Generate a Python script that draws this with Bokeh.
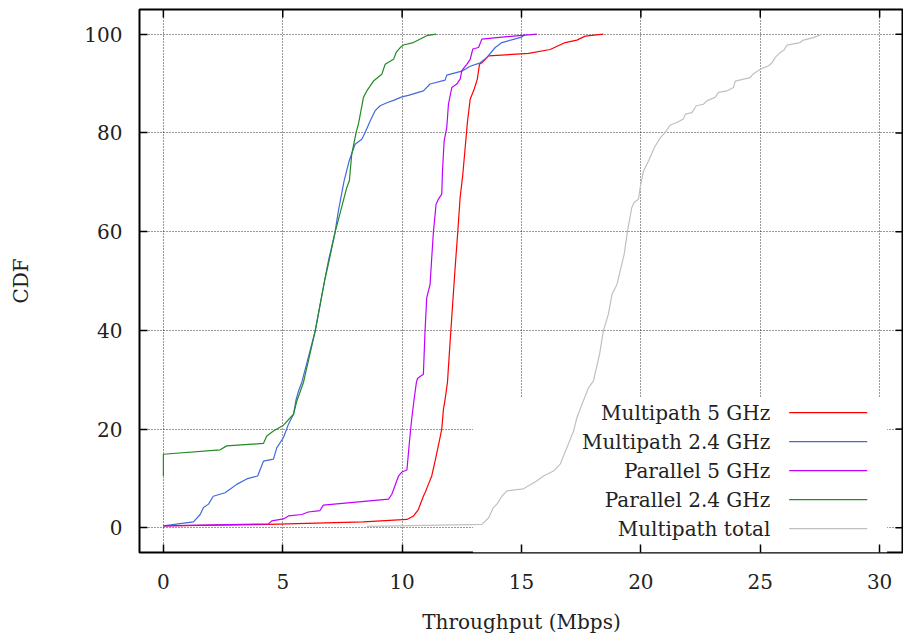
import math
from bokeh.plotting import figure
from bokeh.models import Range1d, FixedTicker, BoxAnnotation, Label, ColumnDataSource
from bokeh.embed import file_html
from bokeh.resources import INLINE

# ---------------- data ----------------
x_ticks = [0, 5, 10, 15, 20, 25, 30]
y_ticks = [0, 20, 40, 60, 80, 100]
x_lim = (-1, 31)
y_lim = (-5, 105)
x_title = "Throughput (Mbps)"
y_title = "CDF"

series_names = ["Multipath 5 GHz", "Multipath 2.4 GHz", "Parallel 5 GHz",
                "Parallel 2.4 GHz", "Multipath total"]
series_colors = ["#ff0000", "#4169e1", "#c000ff", "#228b22", "#c0c0c0"]

mp5_x = [0, 4.4, 8.38, 10.2, 10.48, 10.68, 10.89, 10.96, 11.1, 11.24, 11.38, 11.59,
         11.66, 11.73, 11.8, 11.9, 11.93, 12.04, 12.22, 12.33, 12.43, 12.54, 12.64,
         12.74, 12.85, 13.02, 13.15, 13.24, 13.34, 13.62, 15.3, 16.2, 16.83, 17.32,
         17.67, 18.43]
mp5_y = [0.4, 0.7, 1.2, 1.7, 2.4, 3.7, 6.4, 7.1, 8.8, 10.5, 13.5, 18.3,
         20.0, 24.0, 26.0, 29.5, 31.8, 39.9, 52.7, 59.9, 66.9, 71.5, 77.0,
         82.4, 86.8, 88.9, 90.9, 93.9, 94.2, 95.6, 96.1, 96.9, 98.3, 98.8,
         99.6, 100.0]

mp24_x = [0, 1.26, 1.54, 1.68, 1.89, 2.09, 2.58, 2.79, 3.07, 3.49, 3.95, 4.19, 4.61,
          4.75, 5.03, 5.24, 5.45, 5.56, 5.66, 5.8, 6.36, 6.75, 6.91, 7.19, 7.33, 7.57,
          7.78, 8.03, 8.31, 8.45, 8.66, 8.87, 9.08, 9.36, 9.64, 9.99, 10.26, 10.89,
          11.17, 11.8, 11.87, 12.5, 12.85, 13.27, 13.55, 13.9, 14.18, 15.01, 15.15]
mp24_y = [0.4, 1.2, 2.7, 4.1, 4.8, 6.4, 7.1, 7.8, 8.8, 9.9, 10.5, 13.5, 13.9,
          16.2, 18.3, 21.0, 23.0, 26.0, 27.7, 29.5, 39.9, 50.0, 54.0, 59.9, 64.2, 70.3,
          74.3, 77.7, 78.7, 80.1, 82.4, 84.5, 85.5, 86.1, 86.6, 87.3, 87.6, 88.5,
          89.9, 90.7, 91.7, 92.5, 93.5, 94.2, 95.3, 97.3, 98.3, 99.4, 100.0]

par5_x = [0, 4.4, 4.54, 5.03, 5.24, 5.8, 6.07, 6.56, 6.7, 9.43, 9.57, 9.85, 9.99,
          10.2, 10.31, 10.4, 10.5, 10.6, 10.65, 10.89, 10.96, 11.03, 11.17, 11.24,
          11.31, 11.42, 11.52, 11.66, 11.69, 11.76, 11.87, 11.94, 12.08, 12.29, 12.43,
          12.5, 12.71, 12.85, 12.96, 13.2, 13.34, 14.39, 15.64]
par5_y = [0.4, 0.8, 1.4, 1.8, 2.4, 2.7, 3.2, 3.5, 4.6, 5.8, 6.8, 10.5, 11.3,
          11.7, 17.6, 22.0, 26.0, 29.5, 30.3, 31.1, 39.9, 46.6, 49.3, 54.7,
          59.9, 65.5, 66.6, 67.6, 72.3, 78.4, 81.1, 85.8, 89.2, 89.9, 90.9,
          92.6, 93.9, 94.9, 97.0, 97.3, 99.0, 99.5, 100.0]

par24_x = [0, 0, 2.38, 2.65, 4.19, 4.33, 4.61, 5.03, 5.45, 5.59, 5.87, 6.36, 6.75,
           6.94, 7.2, 7.68, 7.79, 7.89, 8.07, 8.17, 8.38, 8.52, 8.8, 9.15, 9.29, 9.64,
           9.75, 9.92, 10.05, 10.47, 11.03, 11.42]
par24_y = [10.5, 14.9, 15.8, 16.6, 17.1, 18.6, 19.6, 20.8, 23.0, 25.7, 29.5, 39.9, 50.0,
           54.1, 60.0, 68.9, 70.3, 75.7, 80.0, 81.8, 87.2, 88.5, 90.5, 91.9, 93.9, 94.9,
           96.3, 97.3, 97.8, 98.3, 99.7, 100.0]

tot_x = [8.52, 13.34, 13.62, 13.82, 13.97, 14.18, 14.39, 15.08, 15.64, 15.92, 16.34,
         16.62, 16.9, 17.18, 17.32, 17.53, 17.81, 18.01, 18.27, 18.43, 18.64, 18.79,
         19.0, 19.13, 19.3, 19.44, 19.62, 19.72, 19.9, 19.97, 20.11, 20.32, 20.56,
         20.81, 21.02, 21.23, 21.51, 21.78, 21.86, 22.14, 22.32, 22.62, 22.76, 23.11,
         23.25, 23.6, 23.88, 23.95, 24.58, 24.69, 25.0, 25.35, 25.49, 25.63, 25.84,
         26.0, 26.12, 26.67, 26.81, 27.23, 27.58]
tot_y = [0.3, 0.7, 2.0, 4.1, 4.8, 6.4, 7.5, 7.9, 9.5, 10.5, 11.5,
         12.9, 16.2, 19.6, 22.3, 25.0, 28.4, 29.7, 35.2, 39.9, 43.3, 47.3,
         49.3, 52.0, 55.4, 60.1, 64.9, 65.9, 66.6, 68.9, 72.3, 74.3, 77.0,
         79.0, 80.1, 81.6, 82.1, 82.8, 83.8, 84.1, 85.5, 85.8, 86.5, 87.2,
         88.2, 88.5, 89.2, 90.5, 91.2, 91.9, 92.9, 93.6, 94.2, 95.3, 96.3,
         96.8, 97.8, 98.3, 98.8, 99.3, 100.0]

series_x = [mp5_x, mp24_x, par5_x, par24_x, tot_x]
series_y = [mp5_y, mp24_y, par5_y, par24_y, tot_y]

# ---------------- layout / style ----------------
FONT = "DejaVu Serif"
FS = "20px"
TEXT_COLOR = "#222222"
TICK_LEN = 8

p = figure(width=903, height=637, x_range=Range1d(*x_lim), y_range=Range1d(*y_lim),
           output_backend="svg", toolbar_location=None,
           min_border_left=139, min_border_right=0, min_border_top=9, min_border_bottom=85)
p.background_fill_color = "white"
p.border_fill_color = "white"
p.outline_line_color = "black"
p.outline_line_width = 2

for ax, tk in ((p.xaxis[0], x_ticks), (p.yaxis[0], y_ticks)):
    ax.ticker = FixedTicker(ticks=tk)
    ax.axis_line_color = None
    ax.major_tick_in = TICK_LEN
    ax.major_tick_out = 0
    ax.major_tick_line_color = "black"
    ax.major_tick_line_width = 1.5
    ax.minor_tick_line_color = None
    ax.major_label_text_font = FONT
    ax.major_label_text_font_size = FS
    ax.major_label_text_color = TEXT_COLOR
    ax.major_label_text_line_height = 0.9
    ax.axis_label_text_font = FONT
    ax.axis_label_text_font_size = FS
    ax.axis_label_text_font_style = "normal"
    ax.axis_label_text_color = TEXT_COLOR
    ax.axis_label_text_line_height = 0.9

p.xaxis[0].axis_label = x_title
p.xaxis[0].major_label_standoff = 21
p.xaxis[0].axis_label_standoff = 18
p.yaxis[0].axis_label = y_title
p.yaxis[0].major_label_standoff = 17
p.yaxis[0].axis_label_standoff = 48

p.xgrid.ticker = FixedTicker(ticks=x_ticks)
p.ygrid.ticker = FixedTicker(ticks=y_ticks)
for g in (p.xgrid, p.ygrid):
    g.grid_line_color = "black"
    g.grid_line_dash = "1 2"
    g.grid_line_width = 1
    g.grid_line_alpha = 0.8

# mirrored inward ticks on the top and right frame edges
p.ray(x=x_ticks, y=[y_lim[1]] * len(x_ticks), length=TICK_LEN, length_units="screen",
      angle=-math.pi / 2, line_color="black", line_width=1.5)
p.ray(x=[x_lim[1]] * len(y_ticks), y=y_ticks, length=TICK_LEN, length_units="screen",
      angle=math.pi, line_color="black", line_width=1.5)

# legend box (white) that hides the grid behind the key
key_box = BoxAnnotation(left=12.97, right=30.31, bottom=y_lim[0], top=26.3,
                        fill_color="white", fill_alpha=1.0, line_color=None,
                        level="underlay")
p.add_layout(key_box)

for xs, ys, c in zip(series_x, series_y, series_colors):
    p.line(xs, ys, line_color=c, line_width=1.2)

# key
key_text_x = 25.42
key_line_x0 = 26.21
key_line_x1 = 29.48
key_top_y = 23.32
key_step = 5.87
rows_y = [key_top_y - i * key_step for i in range(len(series_names))]
src = ColumnDataSource(dict(x0=[key_line_x0] * len(rows_y), x1=[key_line_x1] * len(rows_y),
                            y=rows_y, c=series_colors))
p.segment(x0="x0", x1="x1", y0="y", y1="y", line_color="c", line_width=1.2, source=src)
for name, yy in zip(series_names, rows_y):
    p.add_layout(Label(x=key_text_x, y=yy, text=name, text_align="right",
                       text_baseline="middle", text_font=FONT, text_font_size=FS,
                       text_color=TEXT_COLOR))

open("out.html", "w").write(file_html(p, INLINE))
